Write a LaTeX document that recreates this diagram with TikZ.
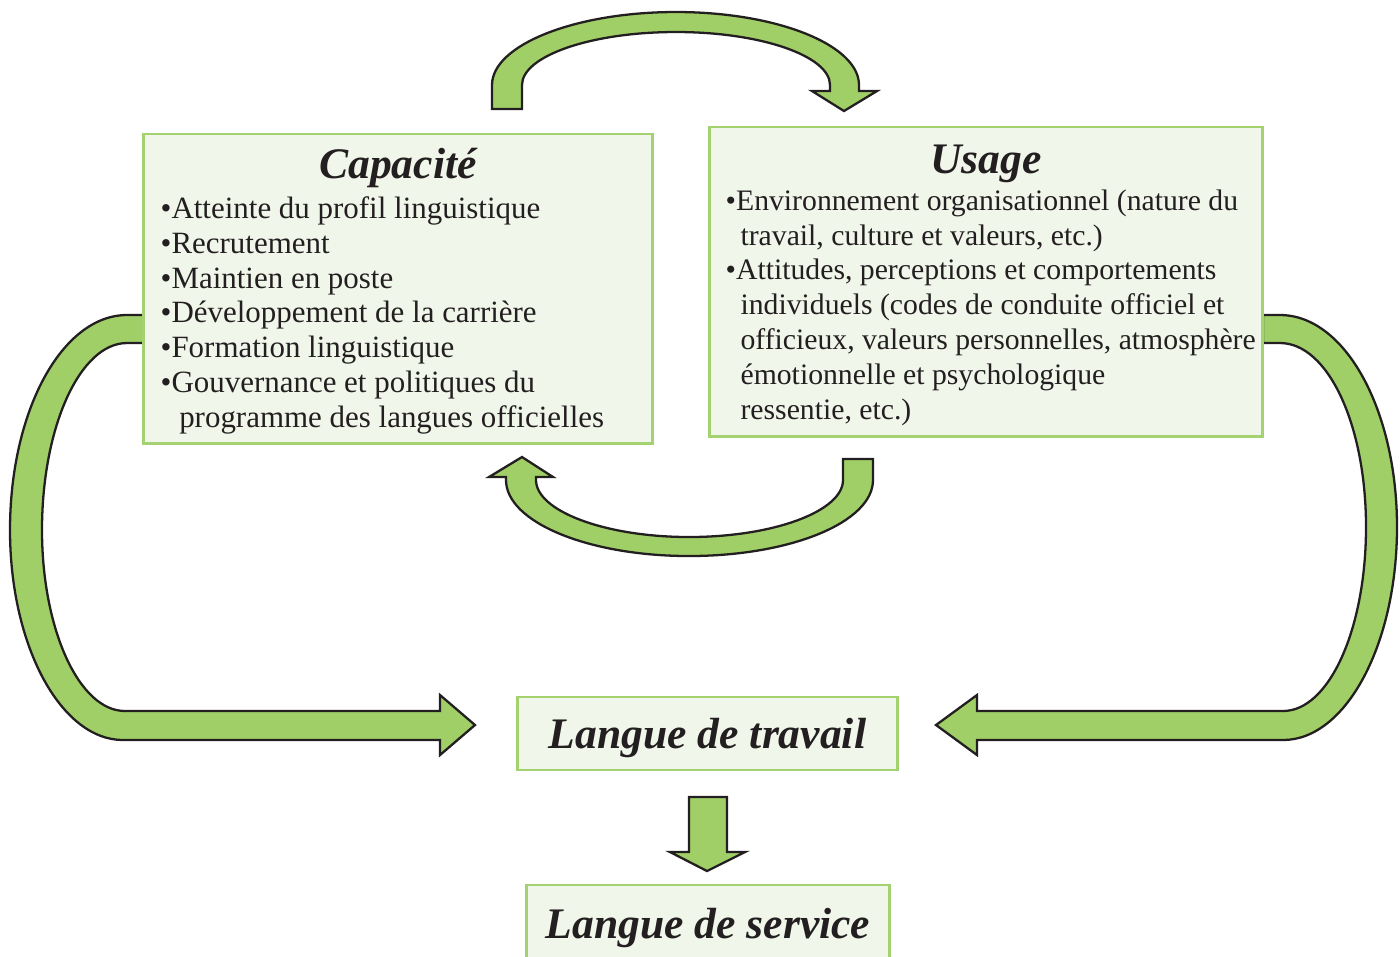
\documentclass[tikz,border=0pt]{standalone}
\usepackage{fontspec}
\setmainfont{Liberation Serif}
\usetikzlibrary{positioning}

\definecolor{arrowgreen}{HTML}{A0CE67}
\definecolor{boxline}{HTML}{A5D271}
\definecolor{boxfill}{HTML}{F1F6EA}
\definecolor{inktext}{HTML}{231F20}

\tikzset{
  bigarrow/.style={fill=arrowgreen, draw=inktext, line width=0.65pt, line join=miter},
  greenbox/.style={draw=boxline, fill=boxfill, line width=0.8pt, inner sep=0pt},
  boxtitle/.style={font=\fontsize{12.4}{14}\selectfont\bfseries\itshape, text=inktext},
  boxlist/.style={font=\fontsize{8.8}{9.9}\selectfont, align=left, inner sep=0pt, anchor=north west, text=inktext},
}

\begin{document}
\begin{tikzpicture}[x=0.01cm, y=-0.01cm]
    \useasboundingbox (0,0) rectangle (1400,956);

    % arrows between the two boxes
    \draw [bigarrow] (492,109) -- (492,85) .. controls (492,45) and (575,12) .. (676,12)
        .. controls (777,12) and (859,45) .. (859,85) -- (859,91) -- (877,91) -- (844,111)
        -- (812,91) -- (830,91) -- (830,85) .. controls (830,56) and (761,32) .. (676,32)
        .. controls (591,32) and (522,56) .. (522,85) -- (522,109) -- cycle;
    \draw [bigarrow] (873,459) -- (873,480) .. controls (873,522) and (791,556) .. (689,556)
        .. controls (588,556) and (506,522) .. (506,480) -- (506,477) -- (489,477) -- (522,457)
        -- (553,477) -- (536,477) -- (536,480) .. controls (536,511) and (605,537) .. (689,537)
        .. controls (774,537) and (843,511) .. (843,480) -- (843,459) -- cycle;

    % arrows down to langue de travail
    \draw [bigarrow] (144,315) -- (127,315) .. controls (62,315) and (10,411) .. (10,530)
        .. controls (10,646) and (61,740) .. (123,740) -- (440,740) -- (440,755) -- (475,725)
        -- (440,695) -- (440,711) -- (125,711) .. controls (79,711) and (42,629) .. (42,530)
        .. controls (42,427) and (80,343) .. (127,343) -- (144,343) -- cycle;
    \draw [bigarrow] (1263,315) -- (1280,315) .. controls (1345,315) and (1397,410) .. (1397,527)
        .. controls (1397,644) and (1346,740) .. (1283,740) -- (977,740) -- (977,755) -- (936,725)
        -- (977,695) -- (977,711) -- (1283,711) .. controls (1329,711) and (1366,629) .. (1366,527)
        .. controls (1366,425) and (1328,343) .. (1280,343) -- (1263,343) -- cycle;
    \draw [bigarrow] (689,797) -- (727,797) -- (727,852) -- (745,852) -- (707,871) -- (670,852)
        -- (689,852) -- cycle;

    % boxes
    \node [greenbox, minimum width=5.08cm, minimum height=3.09cm] (cap) at (398,288.5) {};
    \node [greenbox, minimum width=5.52cm, minimum height=3.09cm] (use) at (986,281.5) {};
    \node [greenbox, boxtitle, text depth=0pt, minimum width=3.79cm, minimum height=0.73cm] (travail) at (707.5,733.5) {Langue de travail};
    \node [greenbox, boxtitle, text depth=0pt, minimum width=3.62cm, minimum height=0.76cm] (service) at (708,923) {Langue de service};

    \node [boxtitle, below=0.03cm of cap.north] (captitle) {Capacité};
    \node [boxtitle, below=0.07cm of use.north] (usetitle) {Usage};

    \node [boxlist] (caplist) at (160,196) {•Atteinte du profil linguistique\\
        •Recrutement\\
        •Maintien en poste\\
        •Développement de la carrière\\
        •Formation linguistique\\
        •Gouvernance et politiques du\\
        \hspace*{0.6em}programme des langues officielles};
    \node [boxlist, font=\fontsize{8.45}{9.9}\selectfont] (uselist) at (725,189) {•Environnement organisationnel (nature du\\
        \hspace*{0.5em}travail, culture et valeurs, etc.)\\
        •Attitudes, perceptions et comportements\\
        \hspace*{0.5em}individuels (codes de conduite officiel et\\
        \hspace*{0.5em}officieux, valeurs personnelles, atmosphère\\
        \hspace*{0.5em}émotionnelle et psychologique\\
        \hspace*{0.5em}ressentie, etc.)};
\end{tikzpicture}
\end{document}
